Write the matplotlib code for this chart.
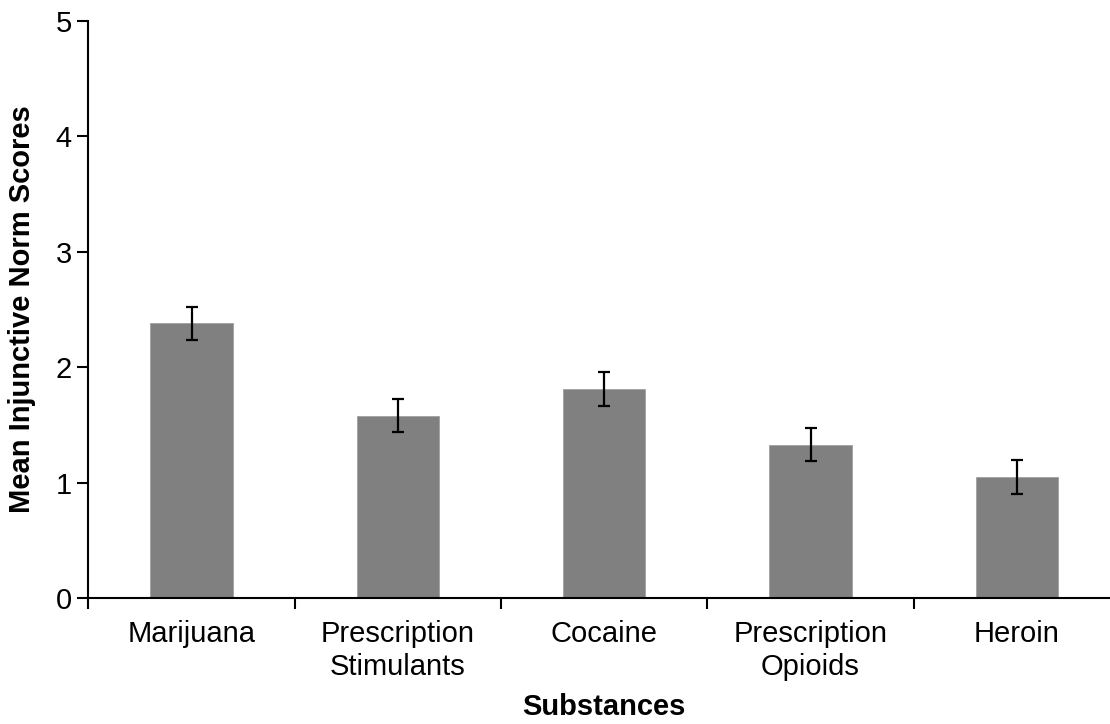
import numpy as np
import matplotlib.pyplot as plt

plt.rcParams['font.family'] = ['Liberation Sans', 'DejaVu Sans']

substances = ["Marijuana", "Prescription\nStimulants", "Cocaine",
              "Prescription\nOpioids", "Heroin"]
means = [2.38, 1.58, 1.81, 1.33, 1.05]
errors = [0.145, 0.145, 0.145, 0.145, 0.145]

fig = plt.figure(figsize=(11.1, 7.24), dpi=100)
ax = fig.add_axes([0.0797, 0.1738, 0.9293, 0.7977])

x = np.arange(len(substances))
ax.bar(x, means, width=0.4, color="#808080", edgecolor="#a0a0a0", linewidth=0.6,
       yerr=errors, capsize=4.2,
       error_kw=dict(elinewidth=1.6, capthick=1.6, ecolor="black"))

ax.set_xlim(-0.5, len(substances) - 0.5)
ax.set_ylim(0, 5)
ax.set_yticks([0, 1, 2, 3, 4, 5])
# category boundaries carry the tick marks, centres carry the labels
ax.set_xticks(np.arange(len(substances) + 1) - 0.5)
ax.set_xticklabels([])
ax.set_xticks(x, minor=True)
ax.set_xticklabels(substances, minor=True)
ax.tick_params(axis="x", which="minor", length=0, pad=16, labelsize=21)
ax.tick_params(axis="x", which="major", direction="out", length=8, width=1.5)
ax.tick_params(axis="y", direction="out", length=8, width=1.5, pad=4, labelsize=21)

for side in ["top", "right"]:
    ax.spines[side].set_visible(False)
for side in ["left", "bottom"]:
    ax.spines[side].set_linewidth(1.5)

ax.set_xlabel("Substances", fontsize=21, fontweight="bold", labelpad=9)
ax.set_ylabel("Mean Injunctive Norm Scores", fontsize=21, fontweight="bold", labelpad=14)

fig.savefig("out.png", dpi=100)
